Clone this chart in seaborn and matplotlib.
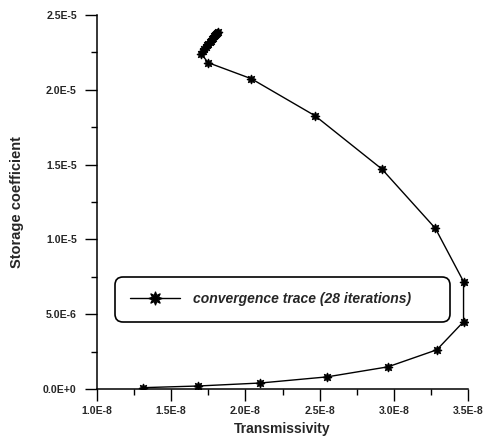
import numpy as np
import pandas as pd
import matplotlib
matplotlib.use("Agg")
import matplotlib.pyplot as plt
import seaborn as sns
from matplotlib.ticker import FixedLocator, FixedFormatter, MultipleLocator

# ---- data ----
transmissivity = [1.31e-8, 1.68e-8, 2.10e-8, 2.55e-8, 2.96e-8, 3.29e-8, 3.47e-8,
                  3.47e-8, 3.28e-8, 2.92e-8, 2.47e-8, 2.04e-8, 1.75e-8, 1.70e-8,
                  1.713e-8, 1.723e-8, 1.732e-8, 1.742e-8, 1.751e-8, 1.759e-8, 1.767e-8,
                  1.775e-8, 1.782e-8, 1.789e-8, 1.796e-8, 1.802e-8, 1.808e-8, 1.814e-8]
storage = [0.09e-6, 0.20e-6, 0.40e-6, 0.81e-6, 1.48e-6, 2.62e-6, 4.50e-6,
           7.18e-6, 10.74e-6, 14.70e-6, 18.26e-6, 20.74e-6, 21.81e-6, 22.42e-6,
           22.62e-6, 22.74e-6, 22.86e-6, 22.97e-6, 23.09e-6, 23.19e-6, 23.29e-6,
           23.40e-6, 23.48e-6, 23.57e-6, 23.66e-6, 23.74e-6, 23.82e-6, 23.89e-6]
iterations = list(range(1, 29))

x_ticks = [1.0e-8, 1.5e-8, 2.0e-8, 2.5e-8, 3.0e-8, 3.5e-8]
x_tick_labels = ["1.0E-8", "1.5E-8", "2.0E-8", "2.5E-8", "3.0E-8", "3.5E-8"]
y_ticks = [0.0, 5.0e-6, 1.0e-5, 1.5e-5, 2.0e-5, 2.5e-5]
y_tick_labels = ["0.0E+0", "5.0E-6", "1.0E-5", "1.5E-5", "2.0E-5", "2.5E-5"]
x_label = "Transmissivity"
y_label = "Storage coefficient"
series_label = "convergence trace (28 iterations)"

sns.set_style("ticks")
plt.rcParams['font.family'] = ['Liberation Sans', 'DejaVu Sans']

fig = plt.figure(figsize=(4.86, 4.40), dpi=100)
ax = fig.add_axes([97 / 486, 1 - 389 / 440, 371 / 486, 374 / 440])

df = pd.DataFrame({"iteration": iterations, "T": transmissivity, "S": storage})
sns.lineplot(data=df, x="T", y="S", sort=False, estimator=None, color="black",
             linewidth=1.0, marker=(8, 1, 0), markersize=6.5, markeredgecolor="black",
             markerfacecolor="black", markeredgewidth=0.8,
             label=series_label, ax=ax)

ax.set_xlim(1.0e-8, 3.5e-8)
ax.set_ylim(0.0, 2.5e-5)
ax.xaxis.set_major_locator(FixedLocator(x_ticks))
ax.xaxis.set_major_formatter(FixedFormatter(x_tick_labels))
ax.yaxis.set_major_locator(FixedLocator(y_ticks))
ax.yaxis.set_major_formatter(FixedFormatter(y_tick_labels))
ax.xaxis.set_minor_locator(MultipleLocator(0.25e-8))
ax.yaxis.set_minor_locator(MultipleLocator(2.5e-6))

sns.despine(ax=ax)
for s in ["left", "bottom"]:
    ax.spines[s].set_linewidth(1.1)
    ax.spines[s].set_color("black")

ax.tick_params(which="major", direction="out", length=8.5, width=1.0, color="black",
               labelsize=7.6)
ax.tick_params(axis="y", which="major", pad=6)
ax.tick_params(axis="x", which="major", pad=4)
ax.tick_params(which="minor", direction="out", length=4.3, width=1.0, color="black")
for lab in ax.get_xticklabels() + ax.get_yticklabels():
    lab.set_fontweight("bold")

ax.set_xlabel(x_label, fontsize=10, fontweight="bold", labelpad=4)
ax.set_ylabel(y_label, fontsize=10.5, fontweight="bold", labelpad=14)

leg = ax.legend(loc="center", bbox_to_anchor=(0.0485, 0.177, 0.903, 0.126),
                mode="expand", borderaxespad=0,
                prop=dict(weight="bold", style="italic", size=10),
                handlelength=3.6, handletextpad=0.95, borderpad=1.1,
                fancybox=True, frameon=True, markerscale=1.5)
frame = leg.get_frame()
frame.set_edgecolor("black")
frame.set_linewidth(1.2)
frame.set_alpha(1)
frame.set_boxstyle("round,pad=0,rounding_size=0.55")

fig.savefig("out.png", dpi=100)
